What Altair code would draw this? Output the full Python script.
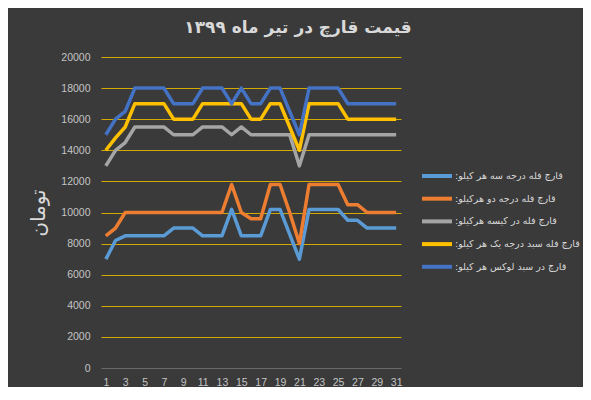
import altair as alt
import pandas as pd

days = list(range(1, 32))

series_names = [
    "قارچ فله درجه سه هر کیلو:",
    "قارچ فله درجه دو هرکیلو:",
    "قارچ فله در کیسه هرکیلو:",
    "قارچ فله سبد درجه یک هر کیلو:",
    "قارچ در سبد لوکس هر کیلو:",
]
series_colors = ["#5B9BD5", "#ED7D31", "#A5A5A5", "#FFC000", "#4472C4"]

grade3 = [7000, 8200, 8500, 8500, 8500, 8500, 8500, 9000, 9000, 9000,
          8500, 8500, 8500, 10200, 8500, 8500, 8500, 10200, 10200, 8600,
          7000, 10200, 10200, 10200, 10200, 9500, 9500, 9000, 9000, 9000, 9000]
grade2 = [8500, 9000, 10000, 10000, 10000, 10000, 10000, 10000, 10000, 10000,
          10000, 10000, 10000, 11800, 10000, 9600, 9600, 11800, 11800, 10000,
          8000, 11800, 11800, 11800, 11800, 10500, 10500, 10000, 10000, 10000, 10000]
bagged = [13000, 14000, 14500, 15500, 15500, 15500, 15500, 15000, 15000, 15000,
          15500, 15500, 15500, 15000, 15500, 15000, 15000, 15000, 15000, 15000,
          13000, 15000, 15000, 15000, 15000, 15000, 15000, 15000, 15000, 15000, 15000]
basket1 = [14000, 14800, 15500, 17000, 17000, 17000, 17000, 16000, 16000, 16000,
           17000, 17000, 17000, 17000, 17000, 16000, 16000, 17000, 17000, 15500,
           14000, 17000, 17000, 17000, 17000, 16000, 16000, 16000, 16000, 16000, 16000]
luxury = [15000, 16000, 16500, 18000, 18000, 18000, 18000, 17000, 17000, 17000,
          18000, 18000, 18000, 17000, 18000, 17000, 17000, 18000, 18000, 16500,
          15000, 18000, 18000, 18000, 18000, 17000, 17000, 17000, 17000, 17000, 17000]

x_ticks = [1, 3, 5, 7, 9, 11, 13, 15, 17, 19, 21, 23, 25, 27, 29, 31]
y_ticks = [0, 2000, 4000, 6000, 8000, 10000, 12000, 14000, 16000, 18000, 20000]

title_text = "قیمت قارچ در تیر ماه ۱۳۹۹"
y_title = "تومان"

rows = []
for name, vals in zip(series_names, [grade3, grade2, bagged, basket1, luxury]):
    for d, v in zip(days, vals):
        rows.append({"series": name, "day": d, "price": v})
df = pd.DataFrame(rows)

label_color = "#c4c4c4"

chart = alt.Chart(df).mark_line(strokeWidth=3.5, strokeJoin="round").encode(
    x=alt.X("day:Q",
            scale=alt.Scale(domain=[0.5, 31.5], nice=False, zero=False),
            axis=alt.Axis(values=x_ticks, grid=False, domain=False, ticks=False,
                          tickSize=0, labelPadding=9.5, labelFont="Liberation Sans",
                          labelFontSize=10.5, labelColor=label_color, title=None)),
    y=alt.Y("price:Q",
            scale=alt.Scale(domain=[0, 20000], nice=False),
            axis=alt.Axis(values=y_ticks, format="d", grid=True, domain=False, ticks=False,
                          tickSize=0, labelPadding=11, labelFont="Liberation Sans",
                          labelFontSize=10.5, labelColor=label_color,
                          gridColor={"condition": {"test": "datum.value === 0", "value": "#6a6a6a"},
                                     "value": "#D4AA00"},
                          gridWidth=1,
                          title=y_title, titleFont="DejaVu Sans", titleFontSize=20,
                          titleFontWeight="normal", titleColor="#d9d9d9",
                          titleAngle=270, titleX=-63, titleY=155.5,
                          titleAlign="center", titleBaseline="middle")),
    color=alt.Color("series:N",
                    scale=alt.Scale(domain=series_names, range=series_colors),
                    sort=series_names,
                    legend=alt.Legend(title=None, orient="none", legendX=329, legendY=112,
                                      symbolType="M-3,0H3", symbolSize=100,
                                      symbolStrokeWidth=4, labelFont="DejaVu Sans",
                                      labelFontSize=9.5, labelColor="#d9d9d9",
                                      labelOffset=11, rowPadding=6.7, padding=0,
                                      labelLimit=0,
                                      labelExpr="datum.label + '\u200F'")),
).properties(
    width=300,
    height=311,
    title=alt.TitleParams(title_text, font="DejaVu Sans", fontSize=17,
                          fontWeight="bold", color="#d9d9d9", anchor="middle",
                          frame="group", dx=47, offset=7, baseline="middle"),
    autosize=alt.AutoSizeParams(type="none"),
    padding={"left": 93, "top": 49, "right": 182, "bottom": 19},
).configure(
    background="#3a3a3a",
).configure_view(
    stroke=None,
)

chart.save("out.html", embed_options={"renderer": "svg", "actions": False})
